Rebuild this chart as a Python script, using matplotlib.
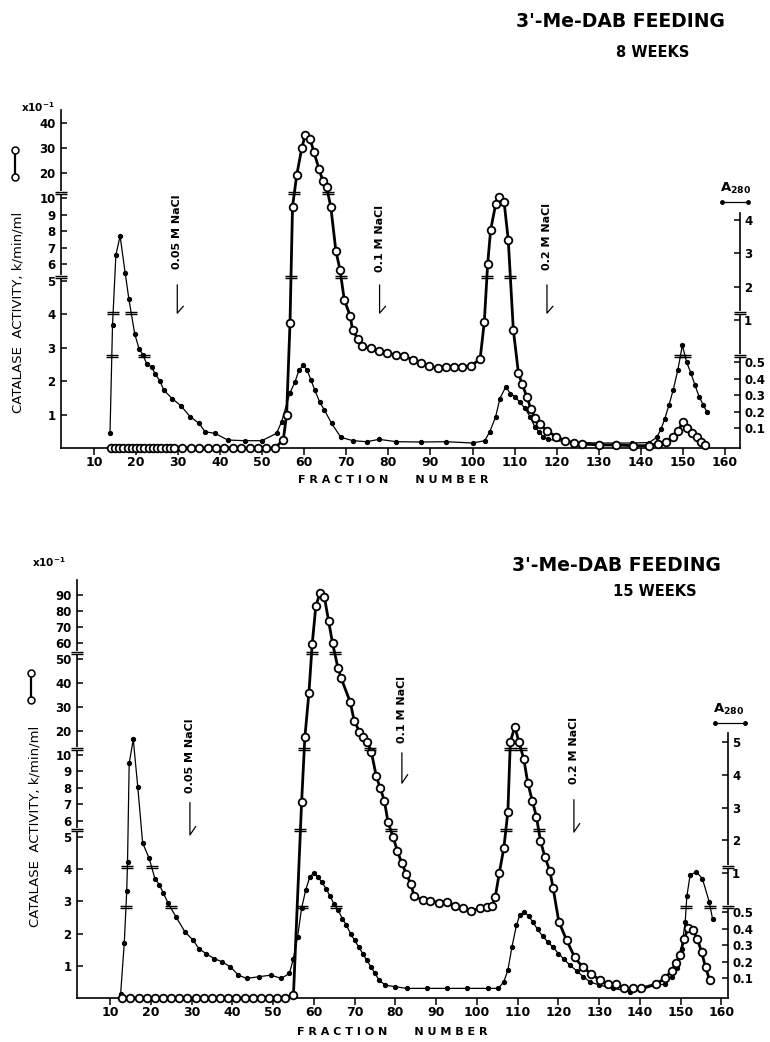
import numpy as np
import matplotlib.pyplot as plt
import matplotlib.transforms as mtransforms
from matplotlib.path import Path

plt.rcParams['font.family'] = 'DejaVu Sans'
plt.rcParams['font.weight'] = 'bold'

# ---------------- 8 weeks: catalase activity (open circles, left axis)
cat8_x = list(range(14, 30)) + list(range(31, 54, 2)) + [
    55.0, 55.8, 56.6, 57.2, 58.2, 59.4, 60.2, 61.4, 62.3, 63.5, 64.4, 65.3, 66.3, 67.5,
    68.5, 69.5, 70.9, 71.5, 72.8, 73.8, 75.8, 77.8, 79.7, 81.8, 83.8, 85.9, 87.7, 89.7,
    91.7, 93.7, 95.6, 97.6, 99.6, 101.8, 102.8, 103.6, 104.3, 105.5, 106.4, 107.5, 108.5,
    109.7, 110.9, 111.8, 112.9, 113.9, 114.8, 116.0, 117.8, 119.9, 122.1, 124.1, 126.1,
    130.1, 134.1, 138.1, 142.0, 144.0, 146.1, 147.7, 148.9, 150.1, 151.1, 152.1, 153.3,
    154.3, 155.2]
cat8_y = [0] * 28 + [
    0.24, 1.0, 3.74, 9.48, 19.2, 29.9, 35.2, 33.5, 28.3, 21.6, 16.9, 14.3, 9.48, 6.83,
    5.66, 4.44, 3.96, 3.52, 3.26, 3.04, 2.99, 2.89, 2.84, 2.79, 2.74, 2.64, 2.54, 2.46,
    2.39, 2.44, 2.44, 2.44, 2.46, 2.66, 3.77, 6.02, 8.07, 9.62, 10.5, 9.78, 7.47,
    3.54, 2.26, 1.91, 1.54, 1.16, 0.91, 0.71, 0.51, 0.34, 0.21, 0.16, 0.12,
    0.09, 0.09, 0.07, 0.07, 0.12, 0.19, 0.34, 0.52, 0.79, 0.59, 0.46, 0.34,
    0.19, 0.09]

# ---------------- 8 weeks: A280 (dots, right axis)
a8_x = [13.8, 14.4, 15.2, 16.2, 17.4, 18.3, 19.7, 20.7, 21.7, 22.5, 23.7, 24.5, 25.7, 26.6,
        28.6, 30.7, 32.9, 35.0, 36.4, 38.8, 41.8, 45.9, 49.9, 53.4, 54.6, 56.6, 57.8, 58.7,
        59.8, 60.7, 61.6, 62.5, 63.7, 64.8, 66.5, 68.7, 71.6, 74.8, 77.8, 81.9, 87.8, 93.8,
        100.0, 102.9, 104.1, 105.5, 106.5, 107.9, 109.0, 110.1, 111.3, 112.5, 113.7, 114.8,
        115.8, 116.8, 118.0, 122.0, 126.0, 130.0, 134.0, 138.0, 142.0, 143.8, 144.8, 145.7,
        146.7, 147.7, 148.8, 149.9, 150.9, 151.9, 152.9, 153.9, 154.9, 155.7]
a8_y = [0.07, 0.94, 2.95, 3.52, 2.42, 1.62, 0.83, 0.66, 0.58, 0.49, 0.47, 0.43, 0.385, 0.33,
        0.28, 0.235, 0.17, 0.13, 0.08, 0.07, 0.03, 0.026, 0.026, 0.07, 0.14, 0.315, 0.38, 0.45,
        0.48, 0.45, 0.39, 0.33, 0.257, 0.21, 0.13, 0.046, 0.026, 0.02, 0.034, 0.02, 0.018, 0.02,
        0.012, 0.026, 0.08, 0.17, 0.28, 0.35, 0.31, 0.29, 0.257, 0.22, 0.17, 0.11,
        0.08, 0.05, 0.034, 0.02, 0.015, 0.012, 0.012, 0.012, 0.015, 0.046, 0.095, 0.157,
        0.24, 0.33, 0.45, 0.70, 0.50, 0.435, 0.36, 0.29, 0.24, 0.20]

# ---------------- 15 weeks: catalase activity
cat15_x = list(range(13, 54, 2)) + [
    55.0, 57.0, 57.8, 58.8, 59.6, 60.5, 61.5, 62.6, 63.6, 64.6, 65.9, 66.7, 68.9, 69.9,
    71.2, 72.1, 73.1, 74.1, 75.3, 76.3, 77.3, 78.2, 79.4, 80.5, 81.6, 82.7, 83.8, 84.6,
    86.7, 88.6, 90.7, 92.6, 94.6, 96.7, 98.5, 100.8, 102.6, 103.7, 104.5, 105.5, 106.6,
    107.6, 108.2, 109.3, 110.3, 111.5, 112.5, 113.6, 114.6, 115.6, 116.7, 117.9, 118.7,
    120.1, 122.0, 124.0, 126.0, 128.1, 130.1, 132.1, 134.1, 136.2, 138.2, 140.2, 143.9,
    146.1, 147.8, 148.8, 149.8, 150.8, 151.8, 153.0, 154.1, 155.1, 156.1, 157.1]
cat15_y = [0] * 21 + [
    0.1, 7.12, 17.4, 36.0, 59.4, 83.3, 91.1, 88.6, 74.0, 59.8, 46.4, 42.0, 32.2, 24.3,
    19.7, 17.6, 15.5, 11.4, 8.72, 7.97, 7.21, 5.9, 5.02, 4.57, 4.18, 3.85, 3.54, 3.17,
    3.04, 3.02, 2.96, 2.99, 2.86, 2.79, 2.71, 2.79, 2.84, 2.86, 3.13, 3.89, 4.65,
    6.54, 15.5, 21.8, 15.5, 9.76, 8.27, 7.21, 6.24, 4.88, 4.37, 3.95, 3.41,
    2.37, 1.80, 1.26, 0.95, 0.75, 0.56, 0.43, 0.43, 0.30, 0.30, 0.30, 0.43,
    0.61, 0.85, 1.08, 1.34, 1.82, 2.16, 2.11, 1.82, 1.44, 0.95, 0.56]

# ---------------- 15 weeks: A280
a15_x = [12.6, 13.5, 14.1, 14.3, 14.7, 15.7, 16.8, 18.0, 19.6, 21.0, 22.1, 23.1, 24.3, 26.2,
         28.4, 30.4, 31.8, 33.5, 35.5, 37.5, 39.5, 41.5, 43.5, 46.5, 49.5, 52.0, 54.0, 55.0,
         56.0, 57.0, 58.0, 59.0, 60.0, 61.0, 62.0, 63.0, 64.0, 65.0, 66.0, 67.0, 68.0, 69.0,
         70.0, 71.0, 72.0, 73.0, 74.0, 75.0, 76.0, 77.5, 79.9, 82.8, 87.7, 92.6, 97.5, 102.8,
         105.3, 106.6, 107.6, 108.6, 109.7, 110.5, 111.6, 112.7, 113.7, 114.9, 116.1, 117.4,
         118.6, 120.0, 121.4, 122.8, 124.5, 126.1, 127.7, 130.0, 133.5, 137.6, 140.1, 143.9,
         146.1, 147.8, 149.0, 150.2, 151.1, 151.5, 152.3, 153.8, 155.3, 157.0, 157.8]
a15_y = [0.006, 0.315, 0.77, 1.35, 4.35, 5.08, 3.64, 1.92, 1.45, 0.93, 0.85, 0.74, 0.61, 0.47,
         0.38, 0.33, 0.28, 0.25, 0.22, 0.20, 0.17, 0.12, 0.10, 0.11, 0.12, 0.10, 0.13, 0.22,
         0.35, 0.55, 0.78, 0.95, 1.0, 0.95, 0.88, 0.80, 0.70, 0.60, 0.52, 0.46, 0.42, 0.37,
         0.33, 0.29, 0.25, 0.21, 0.17, 0.13, 0.09, 0.06, 0.05, 0.04, 0.04, 0.04, 0.04, 0.04,
         0.04, 0.08, 0.15, 0.29, 0.42, 0.48, 0.50, 0.476, 0.44, 0.396, 0.355, 0.32,
         0.29, 0.25, 0.215, 0.18, 0.145, 0.11, 0.08, 0.06, 0.04, 0.02, 0.03, 0.06,
         0.065, 0.11, 0.16, 0.28, 0.44, 0.70, 0.97, 1.04, 0.93, 0.63, 0.46]

xticks = list(range(10, 161, 10))


def piecewise(vals, pix):
    # broken axis: piecewise linear value -> height
    v = np.asarray(vals, float)
    p = np.asarray(pix, float)
    s0 = (p[1] - p[0]) / (v[1] - v[0])
    s1 = (p[-1] - p[-2]) / (v[-1] - v[-2])
    v = np.r_[v[0] - 1000, v, v[-1] + 1000]
    p = np.r_[p[0] - 1000 * s0, p, p[-1] + 1000 * s1]
    return (lambda a: np.interp(a, v, p)), (lambda a: np.interp(a, p, v))


brk = Path([(-1, 0.22), (1, 0.22), (-1, -0.22), (1, -0.22)],
           [Path.MOVETO, Path.LINETO, Path.MOVETO, Path.LINETO])
gap = Path([(-0.35, -0.2), (0.35, -0.2), (0.35, 0.2), (-0.35, 0.2), (-0.35, -0.2)],
           [Path.MOVETO, Path.LINETO, Path.LINETO, Path.LINETO, Path.CLOSEPOLY])


def curve_breaks(ax, x, y, levels, fwd):
    s = fwd(np.asarray(y, float))
    bx, by = [], []
    for lev in levels:
        sl = fwd(lev)
        for i in range(len(x) - 1):
            a, b = s[i] - sl, s[i + 1] - sl
            if a * b < 0:
                bx.append(x[i] + a / (a - b) * (x[i + 1] - x[i]))
                by.append(lev)
    ax.plot(bx, by, ls='none', marker=brk, ms=8, mew=1.0, mec='k',
            clip_on=False, zorder=6)


def spine_breaks(ax, xpos, levels):
    tr = mtransforms.blended_transform_factory(ax.transAxes, ax.transData)
    ax.plot([xpos] * len(levels), levels, transform=tr, ls='none', marker='s', ms=2.6,
            mfc='white', mec='white', mew=0, clip_on=False, zorder=7)
    ax.plot([xpos] * len(levels), levels, transform=tr, ls='none', marker=brk, ms=9,
            mew=1.0, mec='k', clip_on=False, zorder=8)


def panel(fig, rect, xlim, lk, lticks, lbreaks, lylim, rk, rticks, rlabels, rbreaks,
          rylim, rtop, cx, cy, ax_, ay, salts, sym_y, ylab_pos, xlab_pos, exp_pos, a_pos):
    ax = fig.add_axes(rect)
    ax2 = ax.twinx()
    ax.set_zorder(2)
    ax.patch.set_visible(False)

    fl, il = piecewise(*lk)
    fr, ir = piecewise(*rk)
    ax.set_yscale('function', functions=(fl, il))
    ax2.set_yscale('function', functions=(fr, ir))
    ax.set_xlim(*xlim)
    ax.set_ylim(*lylim)
    ax2.set_ylim(*rylim)

    # A280 thin line with small dots
    ax2.plot(ax_, ay, color='k', lw=0.9, marker='o', ms=2.8, clip_on=False)
    # catalase thick line with open circles
    ax.plot(cx, cy, color='k', lw=2.0, marker='o', ms=5.5, mfc='white', mec='k',
            mew=1.3, clip_on=False, zorder=4)

    curve_breaks(ax, cx, cy, lbreaks, fl)
    curve_breaks(ax2, ax_, ay, rbreaks, fr)
    spine_breaks(ax, 0, lbreaks)
    spine_breaks(ax2, 1, rbreaks)

    for s in ['top', 'right']:
        ax.spines[s].set_visible(False)
    for s in ['top', 'left', 'bottom']:
        ax2.spines[s].set_visible(False)
    ax2.spines['right'].set_bounds(rylim[0], rtop)
    for a in (ax, ax2):
        for s in a.spines.values():
            s.set_linewidth(1.2)

    ax.set_xticks(xticks)
    ax.set_xticklabels([str(t) for t in xticks])
    ax.tick_params(axis='x', direction='out', length=5, width=1.1, pad=1, labelsize=9)
    ax.set_yticks(lticks)
    ax.set_yticklabels([str(t) for t in lticks])
    ax.tick_params(axis='y', direction='in', length=4, width=1.1, pad=4, labelsize=8.5)
    ax.minorticks_off()
    ax2.set_yticks(rticks)
    ax2.set_yticklabels(rlabels)
    ax2.tick_params(axis='y', direction='in', length=4, width=1.1, pad=3, labelsize=8.5)
    ax2.minorticks_off()

    ax.text(ylab_pos[0], ylab_pos[1], 'CATALASE  ACTIVITY, k/min/ml', transform=ax.transAxes,
            rotation=90, ha='center', va='center', fontsize=9.5, fontweight='normal')
    ax.plot([sym_y[0]] * 2, sym_y[1:], transform=ax.transAxes, color='k', lw=1.6,
            marker='o', ms=5, mfc='white', mec='k', mew=1.1, clip_on=False)
    ax.text(exp_pos[0], exp_pos[1], 'x10$^{\\mathbf{-1}}$', transform=ax.transAxes,
            ha='center', va='center', fontsize=7.5)
    ax.text(xlab_pos[0], xlab_pos[1], 'F R A C T I O N       N U M B E R',
            transform=ax.transAxes, ha='center', va='center', fontsize=8)
    ax.text(a_pos[0], a_pos[1], 'A$_{\\mathbf{280}}$', transform=ax.transAxes,
            ha='center', va='center', fontsize=9.5)
    ax.plot([a_pos[2], a_pos[3]], [a_pos[4]] * 2, transform=ax.transAxes, color='k',
            lw=0.9, marker='o', ms=2.5, clip_on=False)

    # salt steps
    tr = mtransforms.blended_transform_factory(ax.transData, ax.transAxes)
    for lab, f, ty, y0, y1, dx in salts:
        ax.text(f, ty, lab, transform=tr, rotation=90, ha='center', va='center',
                fontsize=8)
        ax.plot([f, f, f + dx], [y0, y1, y1 + 0.02], transform=tr, color='k', lw=0.9,
                clip_on=False)
    return ax, ax2


fig = plt.figure(figsize=(7.7, 10.42), dpi=100)

panel(fig, [61 / 770, 1 - 448 / 1042, 679 / 770, 338 / 1042], (2.15, 163.6),
      ((0, 5, 10, 40), (0, 167, 250, 325)), [1, 2, 3, 4, 5, 6, 7, 8, 9, 10, 20, 30, 40],
      [5.24, 12], (0, 45.2),
      ((0, 0.5, 1, 4), (3, 86, 128, 228)), [0.1, 0.2, 0.3, 0.4, 0.5, 1, 2, 3, 4],
      ['0.1', '0.2', '0.3', '0.4', '0.5', '1', '2', '3', '4'], [0.57, 1.2],
      (-0.018, 7.3), 4.2, cat8_x, cat8_y, a8_x, a8_y,
      [('0.05 M NaCl', 29.8, 0.639, 0.482, 0.399, 1.4),
       ('0.1 M NaCl', 77.9, 0.621, 0.482, 0.399, 1.4),
       ('0.2 M NaCl', 117.7, 0.627, 0.482, 0.399, 1.4)],
      (-0.0677, 0.882, 0.802), (-0.0633, 0.40), (0.49, -0.095), (-0.034, 1.01),
      (0.993, 0.769, 0.973, 1.012, 0.728))

panel(fig, [77 / 770, 1 - 998 / 1042, 651 / 770, 418 / 1042], (1.9, 161.6),
      ((0, 5, 10, 50, 90), (0, 161, 243, 339, 403)),
      [1, 2, 3, 4, 5, 6, 7, 8, 9, 10, 20, 30, 40, 50, 60, 70, 80, 90],
      [5.43, 12.5, 53.75], (0, 99.4),
      ((0, 0.5, 1, 5), (3, 86, 125, 256)), [0.1, 0.2, 0.3, 0.4, 0.5, 1, 2, 3, 4, 5],
      ['0.1', '0.2', '0.3', '0.4', '0.5', '1', '2', '3', '4', '5'], [0.56, 1.18],
      (-0.018, 9.95), 5.27, cat15_x, cat15_y, a15_x, a15_y,
      [('0.05 M NaCl', 29.6, 0.579, 0.467, 0.39, 1.4),
       ('0.1 M NaCl', 81.6, 0.689, 0.586, 0.514, 1.4),
       ('0.2 M NaCl', 123.8, 0.591, 0.474, 0.397, 1.4)],
      (-0.0707, 0.778, 0.713), (-0.0645, 0.411), (0.485, -0.081), (-0.043, 1.043),
      (1.0015, 0.691, 0.98, 1.026, 0.658))

fig.text(0.806, 0.979, "3'-Me-DAB FEEDING", ha='center', va='center', fontsize=13.5)
fig.text(0.847, 0.950, '8 WEEKS', ha='center', va='center', fontsize=10.5)
fig.text(0.800, 0.457, "3'-Me-DAB FEEDING", ha='center', va='center', fontsize=13.5)
fig.text(0.851, 0.432, '15 WEEKS', ha='center', va='center', fontsize=10.5)

fig.savefig('out.png', dpi=100)
